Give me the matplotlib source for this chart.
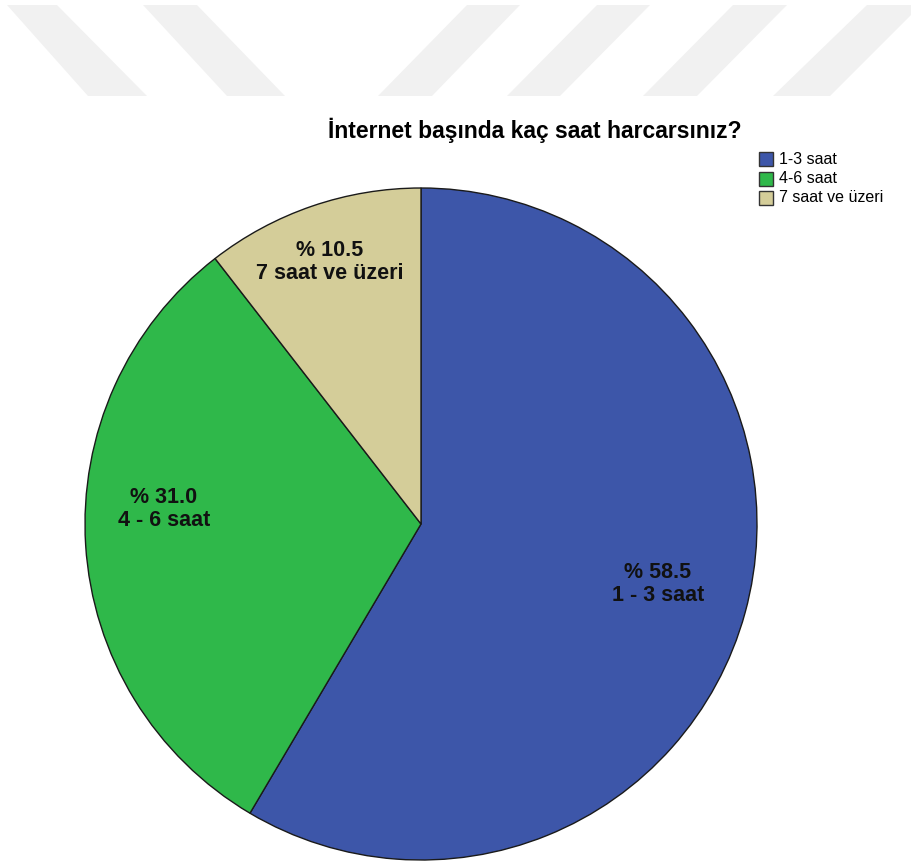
import matplotlib
matplotlib.use("Agg")
import matplotlib.pyplot as plt
from matplotlib.patches import Polygon, Rectangle

plt.rcParams['font.family'] = ['Liberation Sans', 'DejaVu Sans']

title = "İnternet başında kaç saat harcarsınız?"
categories = ["1-3 saat", "4-6 saat", "7 saat ve üzeri"]
slice_labels = ["1 - 3 saat", "4 - 6 saat", "7 saat ve üzeri"]
percents = [58.5, 31.0, 10.5]
colors = ["#3d56a9", "#2fb84a", "#d4cd99"]

W, H = 912, 866
fig = plt.figure(figsize=(W / 100, H / 100), dpi=100)
ax = fig.add_axes([0, 0, 1, 1])

# faint watermark stripes at the top of the page (pixel coords, y down)
stripes = [((7, 57), (88, 147)), ((143, 197), (227, 285)),
           ((467, 520), (378, 432)), ((597, 650), (507, 560)),
           ((733, 787), (643, 697)), ((867, 921), (773, 830))]
for (t0, t1), (b0, b1) in stripes:
    ax.add_patch(Polygon([(t0, H - 5), (t1, H - 5), (b1, H - 96), (b0, H - 96)],
                         closed=True, facecolor='#f1f1f1', edgecolor='none', zorder=0))

cx, cy, R = 421, H - 524, 336
wedges, _ = ax.pie(percents, colors=colors, startangle=90, counterclock=False,
                   center=(cx, cy), radius=R,
                   wedgeprops=dict(edgecolor='#1a1a1a', linewidth=1))

# slice labels, placed as fractions of radius from centre
label_pos = [(0.705, -0.179), (-0.765, 0.045), (-0.271, 0.780)]
for (fx, fy), p, lab in zip(label_pos, percents, slice_labels):
    ax.text(cx + fx * R, cy + fy * R, "%% %.1f\n%s" % (p, lab), ha='center', va='center',
            fontsize=15.5, fontweight='bold', linespacing=1.1, color='#111111')

ax.text(535, H - 130, title, ha='center', va='center', fontsize=16.5, fontweight='bold')

# legend
for i, (c, name) in enumerate(zip(colors, categories)):
    y = H - (159 + i * 19.5)
    ax.add_patch(Rectangle((759, y - 7), 14, 14, facecolor=c, edgecolor='#333333', lw=1))
    ax.text(779, y, name, ha='left', va='center', fontsize=11.5)

ax.set_xlim(0, W)
ax.set_ylim(0, H)
ax.set_aspect('equal')
ax.axis('off')

fig.savefig("out.png", dpi=100)
